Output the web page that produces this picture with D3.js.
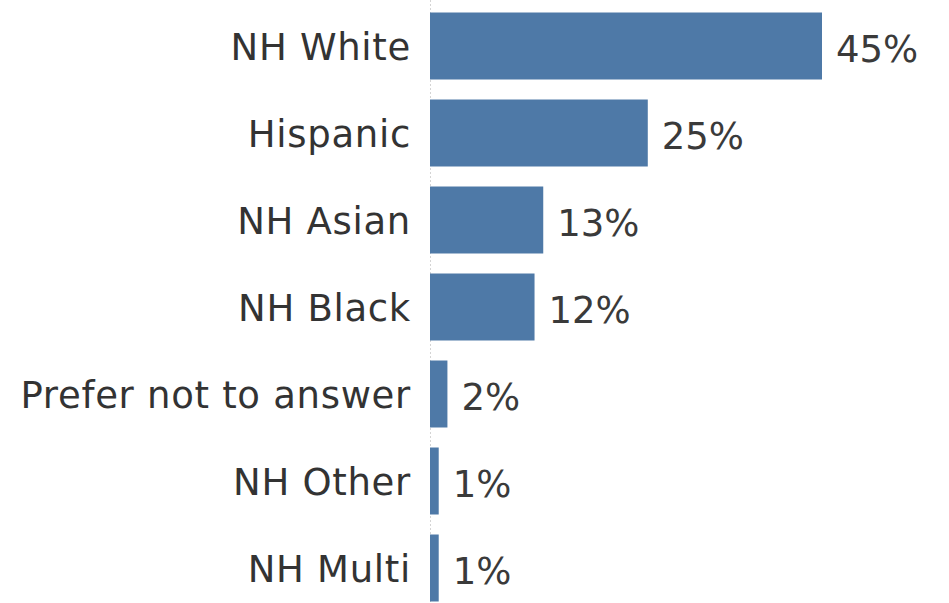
<!DOCTYPE html>
<html>
<head>
<meta charset="utf-8">
<script src="https://cdn.jsdelivr.net/npm/d3@7"></script>
<style>
  html, body { margin: 0; padding: 0; background: #fff; overflow: hidden; }
  svg { display: block; }
</style>
</head>
<body>
<svg id="chart" width="949" height="603"></svg>
<script>
// Share of respondents by race / ethnicity
const categories = ["NH White", "Hispanic", "NH Asian", "NH Black", "Prefer not to answer", "NH Other", "NH Multi"];
const values = [45, 25, 13, 12, 2, 1, 1];
const valueLabels = ["45%", "25%", "13%", "12%", "2%", "1%", "1%"];

const width = 949, height = 603;
const svg = d3.select("#chart");

const x = d3.scaleLinear().domain([0, 45]).range([430, 822]);
const y = d3.scaleBand()
  .domain(categories)
  .range([2.5, 611.5])
  .paddingInner(0.23)
  .paddingOuter(0.115);

const fontFamily = "'DejaVu Sans', 'Open Sans', sans-serif";

// zero line
svg.append("line")
  .attr("x1", x(0) + 0.5).attr("x2", x(0) + 0.5)
  .attr("y1", 0).attr("y2", height)
  .attr("stroke", "#d4d4d4")
  .attr("stroke-width", 1)
  .attr("stroke-dasharray", "2,2");

const rows = categories.map((c, i) => ({ cat: c, val: values[i], label: valueLabels[i] }));

// bars
svg.append("g").selectAll("rect")
  .data(rows)
  .join("rect")
  .attr("x", x(0))
  .attr("y", d => y(d.cat))
  .attr("width", d => x(d.val) - x(0))
  .attr("height", y.bandwidth())
  .attr("fill", "#4e79a7");

// category labels
svg.append("g").selectAll("text")
  .data(rows)
  .join("text")
  .attr("x", 411)
  .attr("y", d => y(d.cat) + y.bandwidth() / 2 + 14)
  .attr("text-anchor", "end")
  .attr("font-family", fontFamily)
  .attr("font-size", 37)
  .attr("letter-spacing", "0.7px")
  .attr("fill", "#333")
  .text(d => d.cat);

// value labels
svg.append("g").selectAll("text")
  .data(rows)
  .join("text")
  .attr("x", d => x(d.val) + 14)
  .attr("y", d => y(d.cat) + y.bandwidth() / 2 + 16)
  .attr("text-anchor", "start")
  .attr("font-family", fontFamily)
  .attr("font-size", 37)
  .attr("fill", "#3a3a3a")
  .text(d => d.label);
</script>
</body>
</html>
